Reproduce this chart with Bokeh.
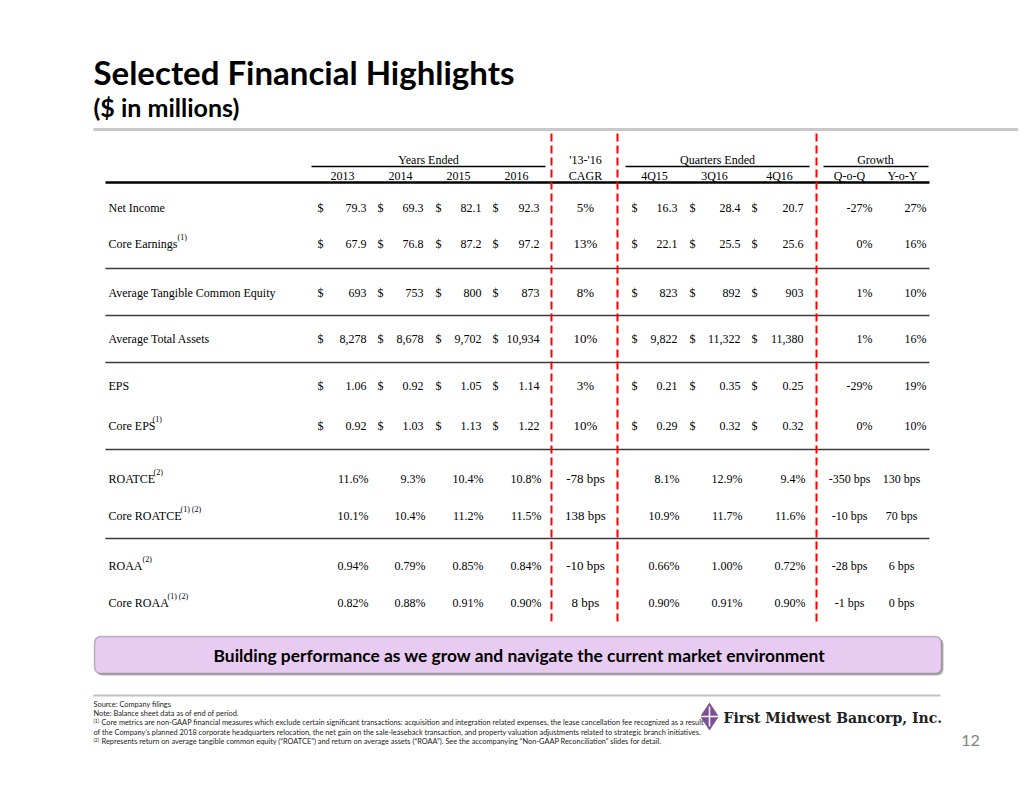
from bokeh.plotting import figure
from bokeh.models import Range1d, ColumnDataSource, BoxAnnotation
from bokeh.core.properties import value
from bokeh.embed import file_html
from bokeh.resources import INLINE

# ---------------- data ----------------
row_labels = ["Net Income", "Core Earnings", "Average Tangible Common Equity",
              "Average Total Assets", "EPS", "Core EPS", "ROATCE", "Core ROATCE",
              "ROAA", "Core ROAA"]
label_notes = ["", "(1)", "", "", "", "(1)", "(2)", "(1) (2)", "(2)", "(1) (2)"]
years = ["2013", "2014", "2015", "2016"]
quarters = ["4Q15", "3Q16", "4Q16"]
growth_cols = ["Q-o-Q", "Y-o-Y"]

val_2013 = [79.3, 67.9, 693, 8278, 1.06, 0.92, 11.6, 10.1, 0.94, 0.82]
val_2014 = [69.3, 76.8, 753, 8678, 0.92, 1.03, 9.3, 10.4, 0.79, 0.88]
val_2015 = [82.1, 87.2, 800, 9702, 1.05, 1.13, 10.4, 11.2, 0.85, 0.91]
val_2016 = [92.3, 97.2, 873, 10934, 1.14, 1.22, 10.8, 11.5, 0.84, 0.90]
cagr = [5, 13, 8, 10, 3, 10, -78, 138, -10, 8]
val_4q15 = [16.3, 22.1, 823, 9822, 0.21, 0.29, 8.1, 10.9, 0.66, 0.90]
val_3q16 = [28.4, 25.5, 892, 11322, 0.35, 0.32, 12.9, 11.7, 1.00, 0.91]
val_4q16 = [20.7, 25.6, 903, 11380, 0.25, 0.32, 9.4, 11.6, 0.72, 0.90]
qoq = [-27, 0, 1, 1, -29, 0, -350, -10, -28, -1]
yoy = [27, 16, 10, 16, 19, 10, 130, 70, 6, 0]

row_fmt = ["{:.1f}", "{:.1f}", "{:,.0f}", "{:,.0f}", "{:.2f}", "{:.2f}",
           "{:.1f}%", "{:.1f}%", "{:.2f}%", "{:.2f}%"]
row_dollar = [True, True, True, True, True, True, False, False, False, False]
row_unit = ["%", "%", "%", "%", "%", "%", " bps", " bps", " bps", " bps"]

title = "Selected Financial Highlights"
subtitle = "($ in millions)"
banner = "Building performance as we grow and navigate the current market environment"
footnotes = [
    ("", "Source: Company filings"),
    ("", "Note: Balance sheet data as of end of period."),
    ("(1)", "Core metrics are non-GAAP financial measures which exclude certain significant transactions: acquisition and integration related expenses, the lease cancellation fee recognized as a result"),
    ("", "of the Company\u2019s planned 2018 corporate headquarters relocation, the net gain on the sale-leaseback transaction, and property valuation adjustments related to strategic branch initiatives."),
    ("(2)", "Represents return on average tangible common equity (\u201cROATCE\u201d) and return on average assets (\u201cROAA\u201d). See the accompanying \u201cNon-GAAP Reconciliation\u201d slides for detail."),
]
company = "First Midwest Bancorp, Inc."
page_no = "12"

# ---------------- layout ----------------
SERIF = "Liberation Serif"
SANS = "Lato"
W, H = 1018, 783
p = figure(width=W, height=H, x_range=Range1d(0, W), y_range=Range1d(H, 0),
           output_backend="svg", toolbar_location=None, min_border=0,
           x_axis_location=None, y_axis_location=None)
p.grid.visible = False
p.outline_line_color = None
p.background_fill_color = "white"
p.border_fill_color = "white"


def txt(xs, ys, texts, size, font=SERIF, align="left", style="normal",
        color="#000000", baseline="middle"):
    src = ColumnDataSource(dict(x=list(xs), y=list(ys), t=list(texts)))
    p.text(x="x", y="y", text="t", source=src, text_font=value(font),
           text_font_size=value(f"{size}px"), text_align=align,
           text_baseline=baseline, text_font_style=style, text_color=color)


def seg(x0, y0, x1, y1, color="#000000", width=1.0, dash="solid"):
    src = ColumnDataSource(dict(x0=list(x0), y0=list(y0), x1=list(x1), y1=list(y1)))
    p.segment(x0="x0", y0="y0", x1="x1", y1="y1", source=src,
              line_color=color, line_width=width, line_dash=dash)


# title block
txt([93], [71], [title], 33, font=SANS, style="bold", color="#000000")
txt([93], [106], [subtitle], 25, font=SANS, style="bold", color="#000000")
seg([93], [129], [1018], [129], color="#c8c8c8", width=3)

# table headers
FS = 12
year_x = [342, 400, 458, 516]
quarter_x = [654, 714, 779]
growth_x = [849, 902]
txt([428], [159], ["Years Ended"], FS, align="center")
txt(year_x, [175] * 4, years, FS, align="center")
txt([585, 585], [159, 175], ["'13-'16", "CAGR"], FS, align="center")
txt([717], [159], ["Quarters Ended"], FS, align="center")
txt(quarter_x, [175] * 3, quarters, FS, align="center")
txt([875], [159], ["Growth"], FS, align="center")
txt(growth_x, [175] * 2, growth_cols, FS, align="center")
seg([311, 625, 823], [166] * 3, [545, 809, 928], [166] * 3, width=1.3)
seg([105], [182], [929], [182], width=2.5)

# rows
row_y = [207, 243, 292, 338, 385, 425, 478, 515, 565, 602]
sep_y = [268, 315, 362, 449, 538]
seg([105] * len(sep_y), sep_y, [929] * len(sep_y), sep_y, color="#3c3c3c", width=1.5)

txt([108] * len(row_labels), row_y, row_labels, FS)
sup_x = [None, 177, None, None, None, 152, 153, 180, 142, 167]
sx, sy, st = [], [], []
for i, note in enumerate(label_notes):
    if note:
        sx.append(sup_x[i]); sy.append(row_y[i] - 6); st.append(note)
txt(sx, sy, st, 8)

year_vals = [val_2013, val_2014, val_2015, val_2016]
year_dollar_x = [320, 380, 438, 495]
year_right_x = [366, 423, 481, 539]
q_vals = [val_4q15, val_3q16, val_4q16]
q_dollar_x = [634, 692, 754]
q_right_x = [677, 740, 803]

dx, dy, vx, vy, vt = [], [], [], [], []
cx, cy, ct = [], [], []
gx_r, gy_r, gt_r = [], [], []
gx_c, gy_c, gt_c = [], [], []
for i in range(len(row_labels)):
    y = row_y[i]
    shift = 0 if row_dollar[i] else 2
    for cols, dxs, rxs in ((year_vals, year_dollar_x, year_right_x),
                           (q_vals, q_dollar_x, q_right_x)):
        for c, vals in enumerate(cols):
            if row_dollar[i]:
                dx.append(dxs[c]); dy.append(y)
            vx.append(rxs[c] + shift); vy.append(y)
            vt.append(row_fmt[i].format(vals[i]))
    cx.append(585); cy.append(y); ct.append(f"{cagr[i]}{row_unit[i]}")
    if row_unit[i] == "%":
        gx_r += [872, 926]; gy_r += [y, y]
        gt_r += [f"{qoq[i]}%", f"{yoy[i]}%"]
    else:
        gx_c += [849, 901]; gy_c += [y, y]
        gt_c += [f"{qoq[i]} bps", f"{yoy[i]} bps"]

txt(dx, dy, ["$"] * len(dx), FS, align="center")
txt(vx, vy, vt, FS, align="right")
txt(cx, cy, ct, 13, align="center")
txt(gx_r, gy_r, gt_r, FS, align="right")
txt(gx_c, gy_c, gt_c, FS, align="center")

# red dashed dividers
seg([551, 617, 816], [133] * 3, [551, 617, 816], [625] * 3,
    color="#ff0000", width=2, dash="8 4")

# banner
p.add_layout(BoxAnnotation(left=96, right=943, top=638, bottom=675,
                           fill_color="#555555", fill_alpha=0.45,
                           line_color=None, border_radius=6, level="underlay"))
p.add_layout(BoxAnnotation(left=94, right=941, top=636, bottom=673,
                           fill_color="#e8cbf0", fill_alpha=1.0,
                           line_color="#333333", line_width=1.5, border_radius=6,
                           level="underlay"))
txt([519], [655], [banner], 17.4, font=SANS, style="bold", align="center")

# footnotes
seg([93], [695], [940], [695], color="#c0c0c0", width=2)
fn_y = [704, 713, 722, 732, 741]
fx_sup, fy_sup, ft_sup = [], [], []
fx, fy, ft = [], [], []
for i, (sup, line) in enumerate(footnotes):
    if sup:
        fx_sup.append(93); fy_sup.append(fn_y[i] - 2); ft_sup.append(sup)
        fx.append(101)
    else:
        fx.append(93)
    fy.append(fn_y[i]); ft.append(line)
txt(fx, fy, ft, 7.4, font=SANS, color="#222222")
txt(fx_sup, fy_sup, ft_sup, 5, font=SANS, color="#222222")

# logo
p.scatter([709], [716], marker="diamond", size=28, fill_color="#7d4f96",
          line_color=None)
p.scatter([709], [716], marker="cross", size=20, line_color="white", line_width=1.5,
          fill_color=None)
txt([723], [717], [company], 14, font="DejaVu Serif", style="bold", color="#222222")
txt([970], [740], [page_no], 16, font=SANS, align="center", color="#808080")

open("out.html", "w").write(file_html(p, INLINE))
